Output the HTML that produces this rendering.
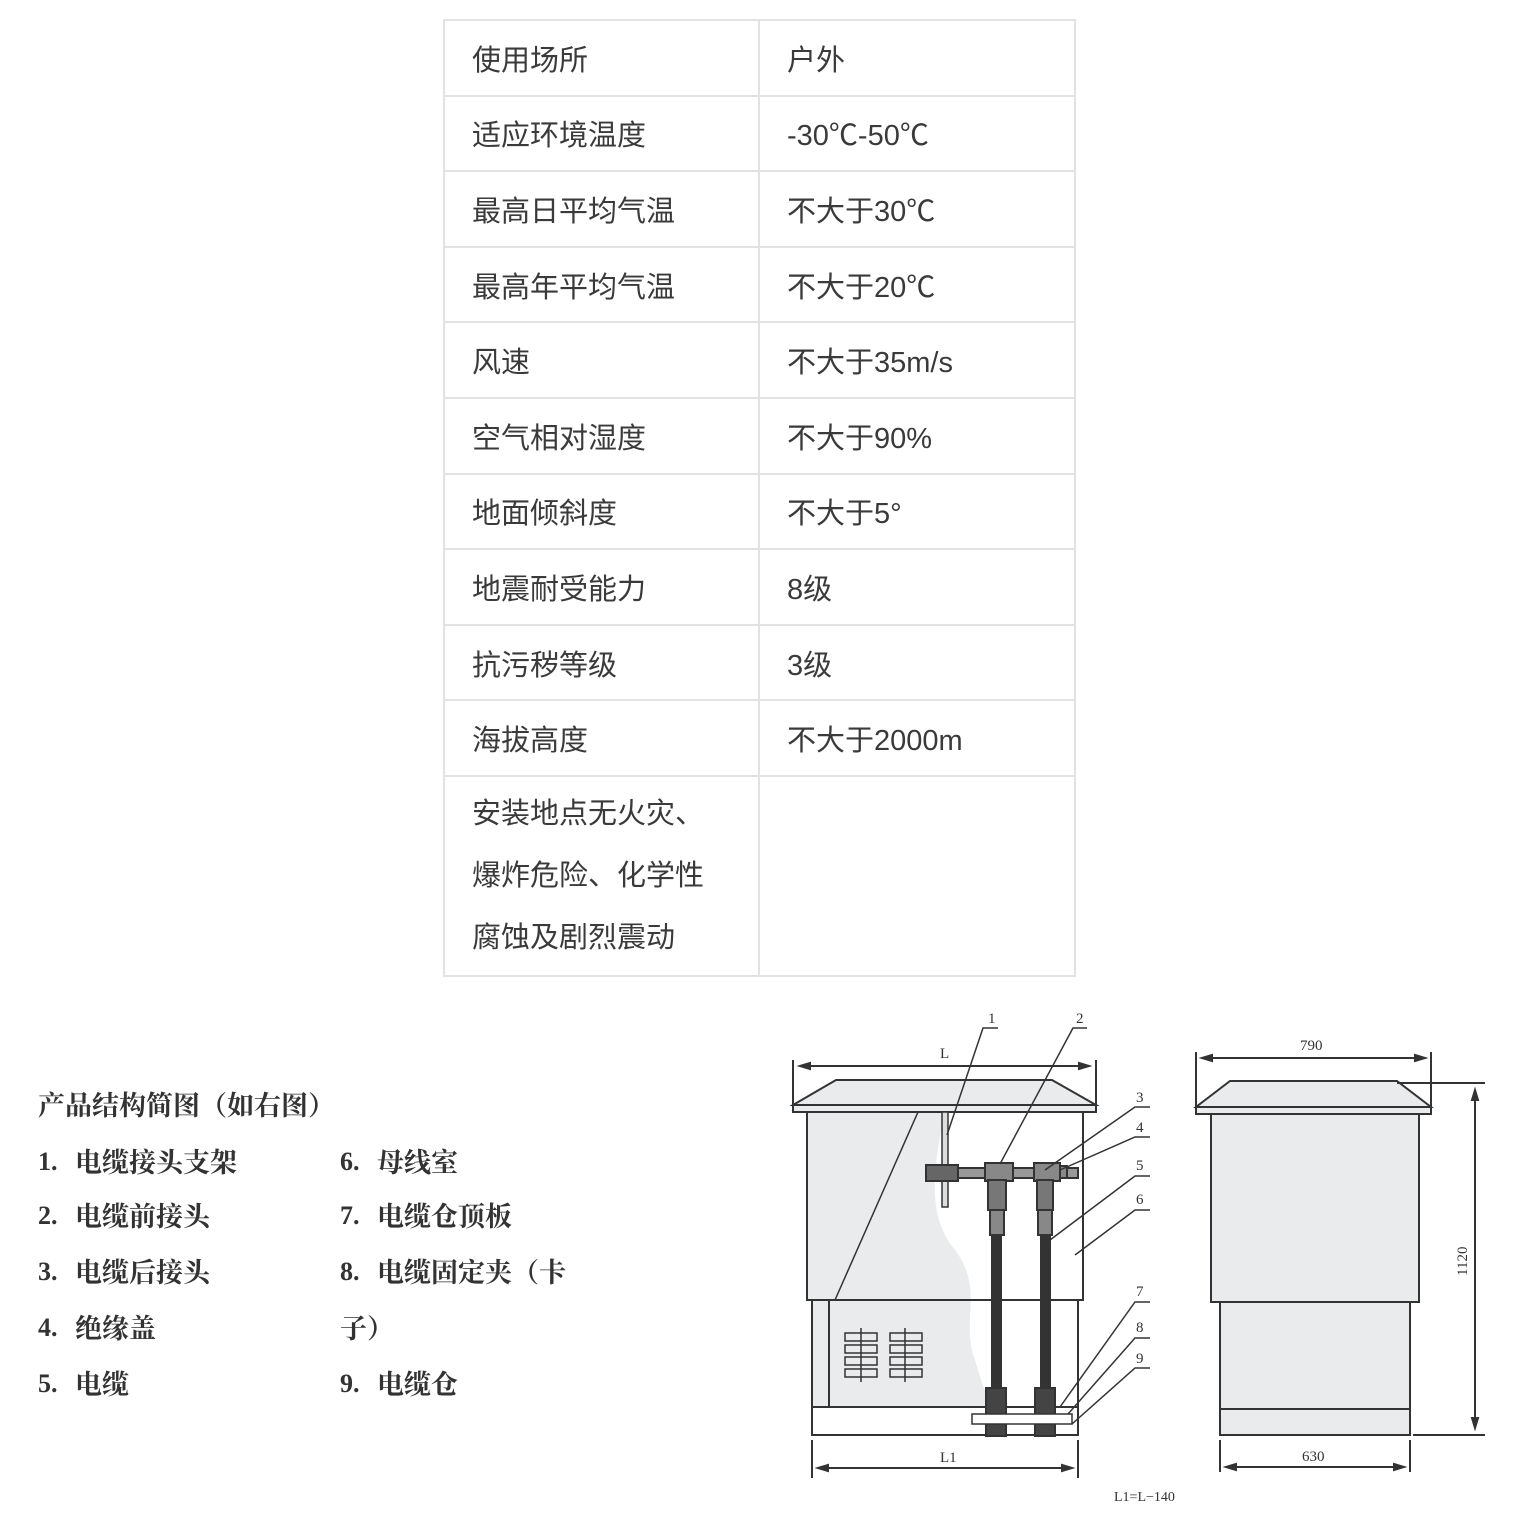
<!DOCTYPE html>
<html><head><meta charset="utf-8"><style>
body{margin:0;width:1517px;height:1517px;background:#fff;position:relative;overflow:hidden}
table{position:absolute;left:443px;top:19px;border-collapse:collapse;table-layout:fixed;width:631px;font-family:"Liberation Sans","Noto Sans CJK SC",sans-serif;font-size:29px;color:#3a3a3a}
td{border:2px solid #e2e2e2;padding:0 0 0 27px;height:75.6px;vertical-align:middle;box-sizing:border-box}
td.l{line-height:62px;height:200px}
.t{position:absolute;font-family:"Liberation Serif","Noto Serif CJK SC",serif;font-size:27px;font-weight:bold;color:#333;white-space:nowrap}
.n{position:absolute;font-family:"Liberation Serif",serif;font-size:26px;font-weight:bold;color:#333}
</style></head><body>
<table>
<colgroup><col style="width:315px"><col style="width:316px"></colgroup>
<tr><td>使用场所</td><td>户外</td></tr>
<tr><td>适应环境温度</td><td>-30℃-50℃</td></tr>
<tr><td>最高日平均气温</td><td>不大于30℃</td></tr>
<tr><td>最高年平均气温</td><td>不大于20℃</td></tr>
<tr><td>风速</td><td>不大于35m/s</td></tr>
<tr><td>空气相对湿度</td><td>不大于90%</td></tr>
<tr><td>地面倾斜度</td><td>不大于5°</td></tr>
<tr><td>地震耐受能力</td><td>8级</td></tr>
<tr><td>抗污秽等级</td><td>3级</td></tr>
<tr><td>海拔高度</td><td>不大于2000m</td></tr>
<tr><td class="l">安装地点无火灾、<br>爆炸危险、化学性<br>腐蚀及剧烈震动</td><td></td></tr>
</table>
<div class="t" style="left:38px;top:1084px">产品结构简图（如右图）</div>
<div class="n" style="left:38px;top:1147px">1.</div><div class="t" style="left:75px;top:1141px">电缆接头支架</div>
<div class="n" style="left:38px;top:1201px">2.</div><div class="t" style="left:75px;top:1195px">电缆前接头</div>
<div class="n" style="left:38px;top:1257px">3.</div><div class="t" style="left:75px;top:1251px">电缆后接头</div>
<div class="n" style="left:38px;top:1313px">4.</div><div class="t" style="left:75px;top:1307px">绝缘盖</div>
<div class="n" style="left:38px;top:1369px">5.</div><div class="t" style="left:75px;top:1363px">电缆</div>
<div class="n" style="left:340px;top:1147px">6.</div><div class="t" style="left:377px;top:1141px">母线室</div>
<div class="n" style="left:340px;top:1201px">7.</div><div class="t" style="left:377px;top:1195px">电缆仓顶板</div>
<div class="n" style="left:340px;top:1257px">8.</div><div class="t" style="left:377px;top:1251px">电缆固定夹（卡</div>
<div class="t" style="left:340px;top:1307px">子）</div>
<div class="n" style="left:340px;top:1369px">9.</div><div class="t" style="left:377px;top:1363px">电缆仓</div>
<svg style="position:absolute;left:0;top:0" width="1517" height="1517" font-family="Liberation Serif,serif" font-size="15" fill="none" stroke="#333" stroke-width="2">
<path d="M807 1112H1083V1300H1080V1407H812V1300H807Z" fill="#e9ebec" stroke="none"/>
<path d="M945 1112 C930 1180 930 1220 955 1250 C985 1290 960 1320 975 1360 C985 1395 990 1400 990 1407 H1080 V1300 H1083 V1112Z" fill="#fff" stroke="none"/>
<path d="M807 1112V1300H1083V1112" />
<path d="M812 1300V1435H1078V1300"/>
<path d="M812 1407H1078M829 1300V1407M812 1300H968" />
<path d="M836 1080H1052L1096 1105H793Z" fill="#e9ebec"/>
<rect x="793" y="1105" width="303" height="7" fill="#e9ebec"/>
<path d="M793 1060V1112M1096 1060V1112M800 1066H1089"/>
<path d="M800 1066l10-3v6zM1089 1066l-10-3v6z" fill="#333"/>
<text x="940" y="1058" fill="#333" stroke="none">L</text>
<path d="M812 1440V1478M1078 1440V1478M818 1468H1072"/>
<path d="M818 1468l10-3v6zM1072 1468l-10-3v6z" fill="#333"/>
<text x="940" y="1462" fill="#333" stroke="none">L1</text>
<text x="1114" y="1501" fill="#333" stroke="none" font-size="14">L1=L−140</text>
<g stroke-width="1.5" fill="#e9ebec">
<rect x="845" y="1333" width="32" height="8"/><rect x="845" y="1345" width="32" height="8"/><rect x="845" y="1357" width="32" height="8"/><rect x="845" y="1369" width="32" height="8"/>
<rect x="890" y="1333" width="32" height="8"/><rect x="890" y="1345" width="32" height="8"/><rect x="890" y="1357" width="32" height="8"/><rect x="890" y="1369" width="32" height="8"/>
<path d="M861 1328V1382M905 1328V1382"/></g>
<rect x="942" y="1112" width="6" height="95" fill="#ddd" stroke-width="1.5"/>
<rect x="926" y="1165" width="32" height="16" fill="#666"/>
<rect x="958" y="1168" width="120" height="10" fill="#999"/>
<rect x="985" y="1163" width="28" height="18" fill="#888"/>
<rect x="1034" y="1163" width="26" height="18" fill="#888"/>
<rect x="1060" y="1166" width="7" height="12" fill="#888"/>
<rect x="988" y="1180" width="18" height="30" fill="#777"/>
<rect x="990" y="1210" width="14" height="25" fill="#888"/>
<rect x="1037" y="1180" width="16" height="30" fill="#777"/>
<rect x="1038" y="1210" width="14" height="25" fill="#888"/>
<rect x="992" y="1235" width="9" height="155" fill="#333"/>
<rect x="1041" y="1235" width="9" height="155" fill="#333"/>
<rect x="986" y="1388" width="20" height="48" fill="#444"/>
<rect x="1035" y="1388" width="20" height="48" fill="#444"/>
<rect x="972" y="1414" width="100" height="10" fill="#fff" stroke-width="1.5"/>
<g stroke-width="1.5">
<path d="M835 1300L918 1112"/>
<path d="M947 1135L983 1028H998M1000 1164L1073 1028H1087M1045 1170L1135 1107H1150M1060 1170L1135 1137H1150M1050 1240L1135 1176H1150M1075 1255L1135 1210H1150M1060 1407L1135 1302H1150M1068 1414L1135 1338H1150M1072 1424L1135 1368H1150"/>
</g>
<g fill="#333" stroke="none" font-size="15">
<text x="988" y="1023">1</text><text x="1076" y="1023">2</text><text x="1136" y="1102">3</text><text x="1136" y="1132">4</text><text x="1136" y="1170">5</text><text x="1136" y="1204">6</text><text x="1136" y="1296">7</text><text x="1136" y="1332">8</text><text x="1136" y="1363">9</text>
</g>
<path d="M1230 1081H1397L1431 1107H1196Z" fill="#e9ebec"/>
<rect x="1196" y="1107" width="235" height="7" fill="#e9ebec"/>
<rect x="1211" y="1114" width="208" height="188" fill="#e9ebec"/>
<rect x="1220" y="1302" width="190" height="133" fill="#e9ebec"/>
<path d="M1220 1409H1410"/>
<path d="M1196 1052V1110M1431 1052V1110M1202 1058H1425"/>
<path d="M1202 1058l10-3v6zM1425 1058l-10-3v6z" fill="#333"/>
<text x="1300" y="1050" fill="#333" stroke="none">790</text>
<path d="M1397 1083H1485M1413 1435H1485M1475 1090V1428"/>
<path d="M1475 1090l-3 10h6zM1475 1428l-3-10h6z" fill="#333"/>
<text transform="translate(1467 1276) rotate(-90)" fill="#333" stroke="none">1120</text>
<path d="M1220 1440V1472M1410 1440V1472M1226 1467H1404"/>
<path d="M1226 1467l10-3v6zM1404 1467l-10-3v6z" fill="#333"/>
<text x="1302" y="1461" fill="#333" stroke="none">630</text>
</svg>
</body></html>
